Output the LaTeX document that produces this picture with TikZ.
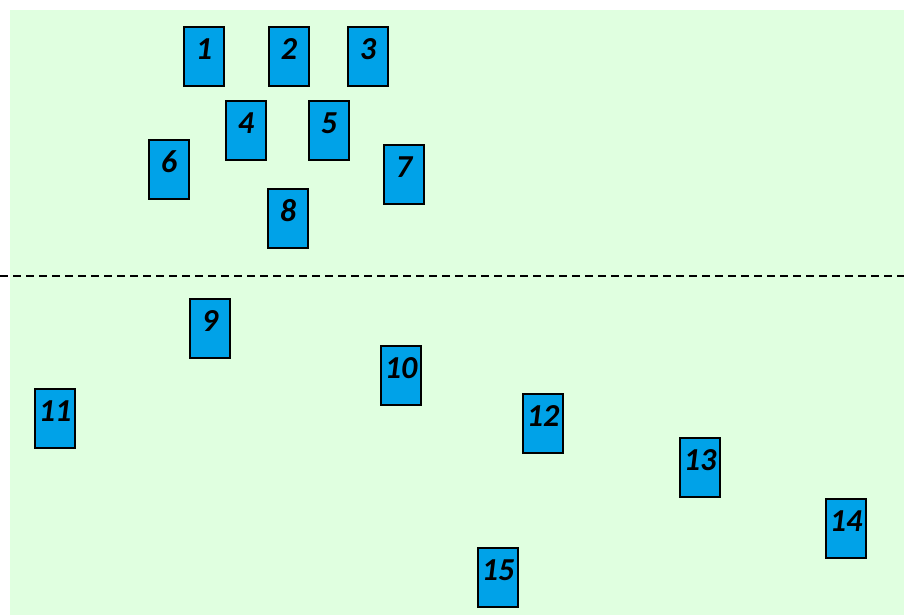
\documentclass[tikz,border=0pt]{standalone}
\usepackage{fontspec}
\setmainfont{Carlito}
\definecolor{bgg}{RGB}{224,255,224}
\definecolor{boxb}{RGB}{0,162,232}
\begin{document}
\begin{tikzpicture}[x=1pt,y=-1pt,
  card/.style={draw=black,line width=1.4pt,fill=boxb,minimum width=40pt,minimum height=59pt,inner sep=0pt},
  lbl/.style={font=\fontsize{32}{32}\selectfont\bfseries\itshape,inner sep=0pt}]
\useasboundingbox (0,0) rectangle (904,615);
\fill[bgg] (10,10) rectangle (904,615);
\coordinate (dl) at (0,276);
\coordinate (dr) at (904,276);
\draw[line width=1.4pt,dash pattern=on 8pt off 5pt] (dl) -- (dr);
\foreach \n/\x/\y in {1/204/56.5,2/289/56.5,3/368/56.5,4/246/130.5,5/329/130.5,6/169/169.5,7/404/174.5,8/288/218.5,9/210/328.5,10/401/375.5,11/55/418.5,12/543/423.5,13/700/467.5,14/846/528.5,15/498/577.5}{
  \node[card] (b\n) at (\x,\y) {};
  \node[lbl] (t\n) at ([yshift=7.5pt]b\n.center) {\n};
}
\end{tikzpicture}
\end{document}
